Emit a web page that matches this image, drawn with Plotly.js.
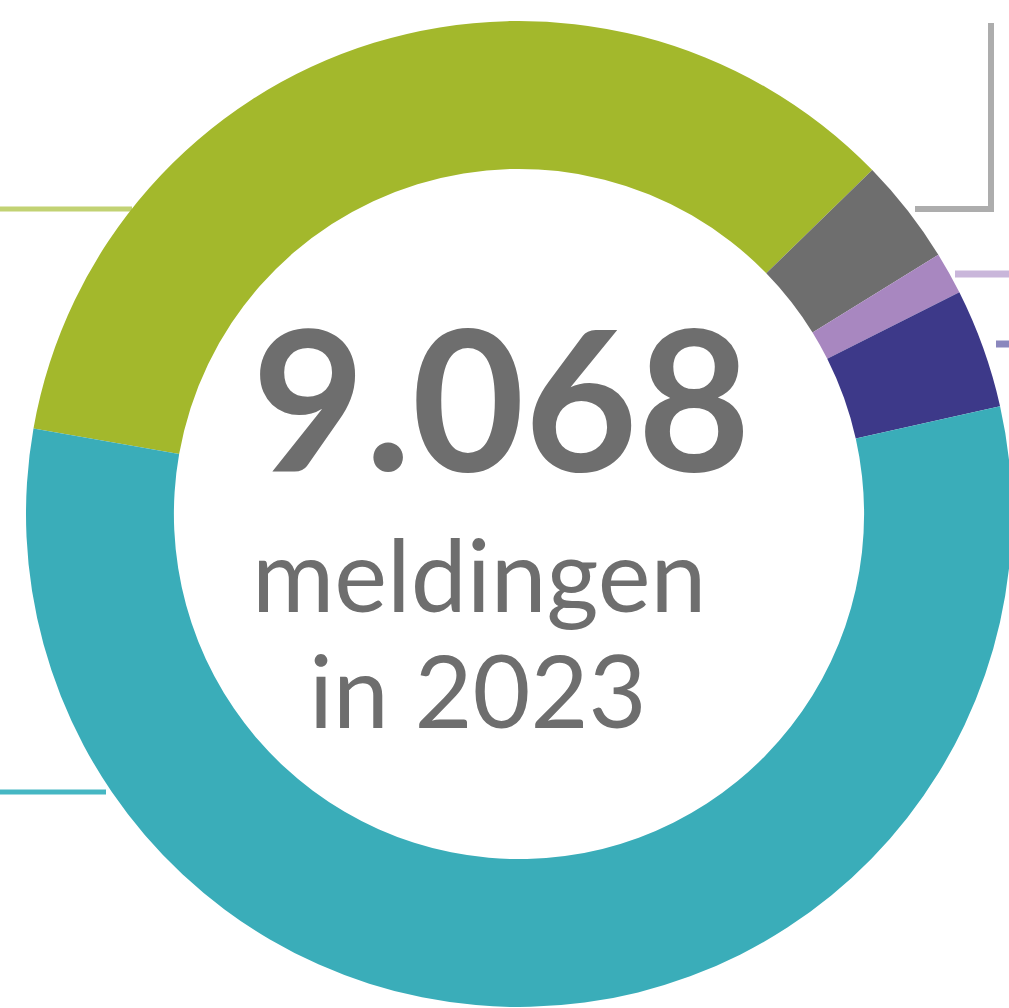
<!DOCTYPE html>
<html>
<head>
<meta charset="utf-8">
<script src="https://cdn.plot.ly/plotly-3.0.1.min.js"></script>
<style>
  html, body { margin: 0; padding: 0; overflow: hidden; background: #fff; }
  #chart { width: 1100px; height: 1008px; }
</style>
</head>
<body>
<div id="chart"></div>
<script>
// meldingen 2023 (total 9.068)
const categories = ["groen", "grijs", "lila", "paars", "blauw"];
const counts = [3168, 315, 126, 355, 5104];
const sliceColors = ["#A3B82C", "#6E6E6E", "#A887C0", "#3D3989", "#3AADB9"];
const centerLines = ["9.068", "meldingen", "in 2023"];

const W = 1100, H = 1008;
const px = x => x / W;
const py = y => 1 - y / H;

const trace = {
    type: "pie",
    labels: categories,
    values: counts,
    hole: 0.70,
    sort: false,
    direction: "clockwise",
    rotation: 280,
    textinfo: "none",
    hoverinfo: "label+value",
    marker: { colors: sliceColors, line: { width: 0 } },
    domain: { x: [px(26), px(1012)], y: [py(1007), py(21)] }
};

// leader lines towards the (cropped) labels
const lines = [
    { path: `M ${px(0)},${py(209)} L ${px(132)},${py(209)}`, color: "#C2D273", width: 5 },
    { path: `M ${px(0)},${py(792)} L ${px(106)},${py(792)}`, color: "#46B7C3", width: 5 },
    { path: `M ${px(915)},${py(209)} L ${px(991)},${py(209)} L ${px(991)},${py(23)}`, color: "#ADADAD", width: 6 },
    { path: `M ${px(955)},${py(274)} L ${px(1100)},${py(274)}`, color: "#C9B6DA", width: 7 },
    { path: `M ${px(996)},${py(344)} L ${px(1100)},${py(344)}`, color: "#8A87BD", width: 7 }
];

const shapes = lines.map(l => ({
    type: "path",
    xref: "paper", yref: "paper",
    path: l.path,
    line: { color: l.color, width: l.width },
    layer: "below"
}));

const annotations = [
    { text: "<b>" + centerLines[0] + "</b>", x: px(501), y: py(396), size: 195 },
    { text: centerLines[1], x: px(479), y: py(573), size: 100 },
    { text: centerLines[2], x: px(477), y: py(689), size: 100 }
].map(a => ({
    text: a.text,
    xref: "paper", yref: "paper",
    x: a.x, y: a.y,
    xanchor: "center", yanchor: "middle",
    showarrow: false,
    font: { family: "Lato, 'Open Sans', sans-serif", size: a.size, color: "#6E6E6E" }
}));

const layout = {
    width: W,
    height: H,
    margin: { t: 0, b: 0, l: 0, r: 0 },
    showlegend: false,
    paper_bgcolor: "#ffffff",
    shapes: shapes,
    annotations: annotations
};

Plotly.newPlot("chart", [trace], layout, { displayModeBar: false, staticPlot: true });
</script>
</body>
</html>
